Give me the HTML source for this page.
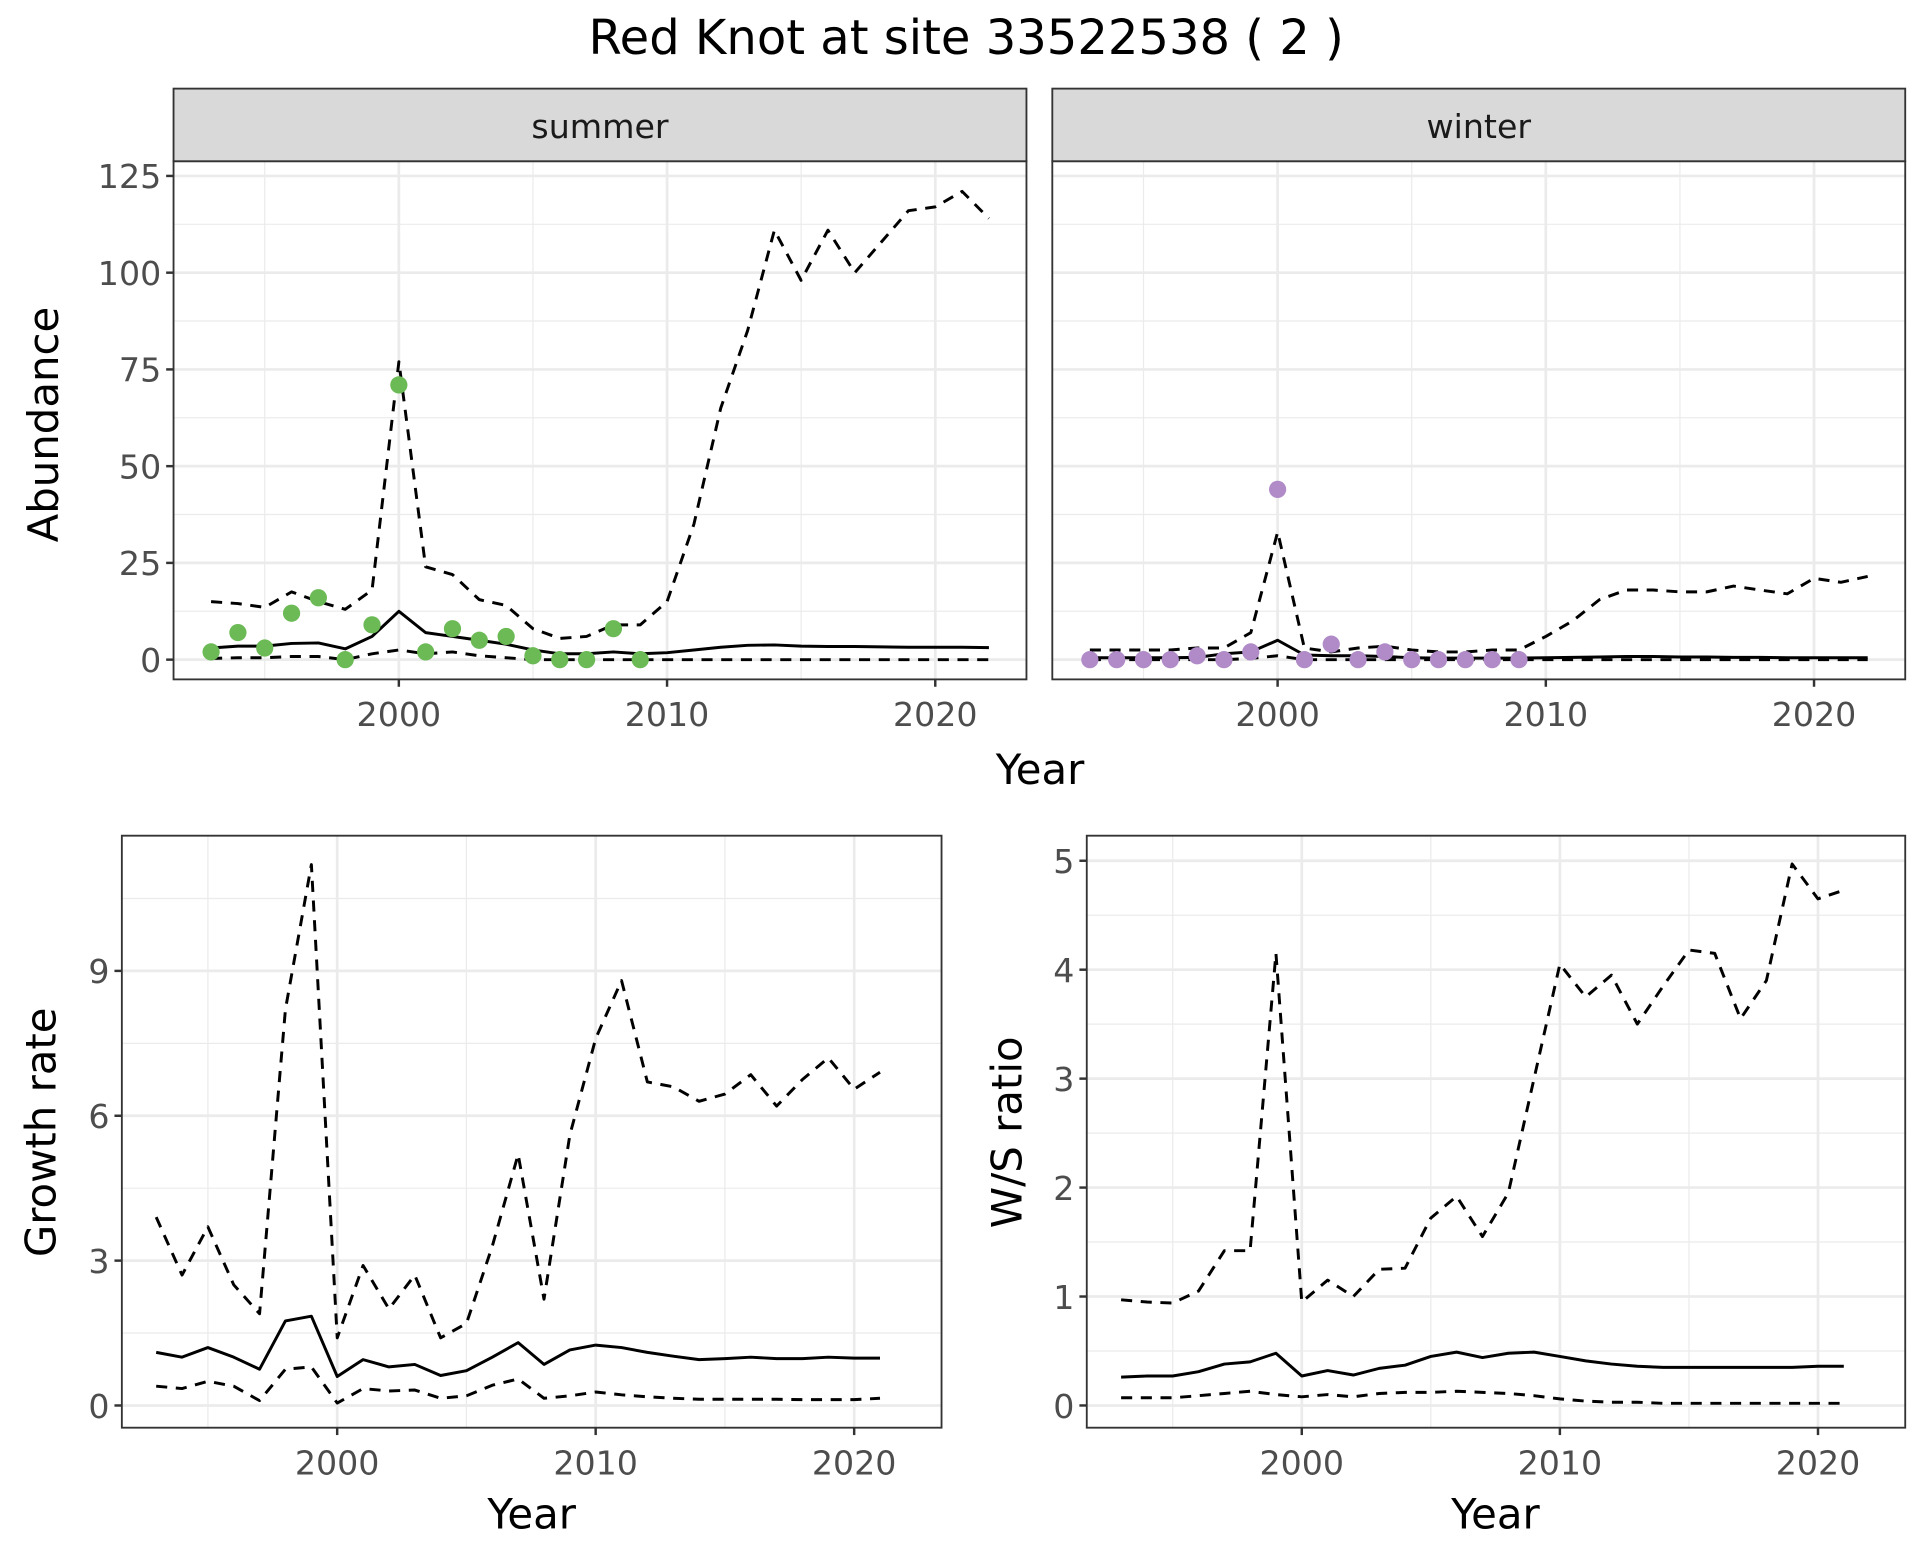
<!DOCTYPE html>
<html><head><meta charset="utf-8"><style>
html,body{margin:0;padding:0;background:#fff}
svg{display:block;font-family:"DejaVu Sans","Liberation Sans",sans-serif}
</style></head><body>
<svg id="chart" width="1920" height="1560" viewBox="0 0 1560 1267.5" xmlns="http://www.w3.org/2000/svg">
<rect width="1560" height="1267.5" fill="#fff"/>
<text x="785" y="44" font-size="39" text-anchor="middle" fill="#000">Red Knot at site 33522538 ( 2 )</text>
</svg>
<script>
const yearsFull = [1993,1994,1995,1996,1997,1998,1999,2000,2001,2002,2003,2004,2005,2006,2007,2008,2009,2010,2011,2012,2013,2014,2015,2016,2017,2018,2019,2020,2021,2022];
const yearsObs = [1993,1994,1995,1996,1997,1998,1999,2000,2001,2002,2003,2004,2005,2006,2007,2008,2009];
const yearsRate = [1993,1994,1995,1996,1997,1998,1999,2000,2001,2002,2003,2004,2005,2006,2007,2008,2009,2010,2011,2012,2013,2014,2015,2016,2017,2018,2019,2020,2021];
const summerObs = [2,7,3,12,16,0,9,71,2,8,5,6,1,0,0,8,0];
const summerMid = [3,3.5,3.5,4.2,4.3,2.8,6,12.5,7,6,5,4,2.5,1.5,1.5,2,1.5,1.8,2.5,3.2,3.7,3.8,3.5,3.4,3.4,3.3,3.2,3.2,3.2,3.1];
const summerHi = [15,14.5,13.5,17.5,15,13,18,77,24,22,15.5,14,8,5.5,6,9,9,15,35,65,85,111,98,111,100,108,116,117,121,114];
const summerLo = [0.3,0.5,0.5,0.8,0.8,0,1.5,2.5,1.5,2,1,0.5,0,0,0,0,0,0,0,0,0,0,0,0,0,0,0,0,0,0];
const winterObs = [0,0,0,0,1,0,2,44,0,4,0,2,0,0,0,0,0];
const winterMid = [0.5,0.5,0.5,0.5,0.6,1.5,2,5,1.2,1,1,0.8,0.5,0.4,0.4,0.4,0.4,0.5,0.6,0.7,0.8,0.8,0.7,0.7,0.6,0.6,0.5,0.5,0.5,0.5];
const winterHi = [2.5,2.5,2.5,2.5,3,3,7,33,3,2,3,3.5,2.5,2,2,2.5,2.5,6,10,15.5,18,18,17.5,17.5,19,18,17,21,20,21.5];
const winterLo = [0,0,0,0,0,0,0.3,1,0,0,0,0,0,0,0,0,0,0,0,0,0,0,0,0,0,0,0,0,0,0];
const growthMid = [1.1,1.0,1.2,1.0,0.75,1.75,1.85,0.6,0.95,0.8,0.85,0.62,0.72,1.0,1.3,0.85,1.15,1.25,1.2,1.1,1.02,0.95,0.97,1.0,0.97,0.97,1.0,0.98,0.98];
const growthHi = [3.9,2.7,3.7,2.5,1.9,8.2,11.2,1.4,2.9,2.0,2.7,1.4,1.7,3.3,5.2,2.2,5.6,7.6,8.8,6.7,6.6,6.3,6.45,6.85,6.2,6.75,7.2,6.55,6.9];
const growthLo = [0.4,0.35,0.5,0.4,0.1,0.75,0.8,0.05,0.35,0.3,0.32,0.15,0.2,0.42,0.55,0.15,0.2,0.28,0.22,0.18,0.15,0.13,0.13,0.13,0.13,0.12,0.12,0.12,0.15];
const ratioMid = [.26,.27,.27,.31,.38,.4,.48,.27,.32,.28,.34,.37,.45,.49,.44,.48,.49,.45,.41,.38,.36,.35,.35,.35,.35,.35,.35,.36,.36];
const ratioHi = [.97,.95,.94,1.05,1.42,1.42,4.15,.95,1.15,1.0,1.25,1.26,1.72,1.92,1.55,1.95,3.0,4.05,3.75,3.95,3.5,3.85,4.18,4.15,3.55,3.9,4.97,4.65,4.73];
const ratioLo = [.07,.07,.07,.09,.11,.13,.1,.08,.1,.08,.11,.12,.12,.13,.12,.11,.09,.06,.04,.03,.03,.02,.02,.02,.02,.02,.02,.02,.02];
const xTicks = [2000,2010,2020];
const xMinor = [1995,2005,2015];
const abundTicks = [0,25,50,75,100,125];
const abundMinor = [12.5,37.5,62.5,87.5,112.5];
const growthTicks = [0,3,6,9];
const growthMinor = [1.5,4.5,7.5,10.5];
const ratioTicks = [0,1,2,3,4,5];
const ratioMinor = [0.5,1.5,2.5,3.5,4.5];

const svg = document.getElementById('chart');
const NS = 'http://www.w3.org/2000/svg';
function mk(tag, attrs, parent){
  const e = document.createElementNS(NS, tag);
  for (const k in attrs) e.setAttribute(k, attrs[k]);
  (parent||svg).appendChild(e);
  return e;
}
function panel(p){
  const g = mk('g', {});
  
  
  const sx = v => p.x0 + (v - p.xmin) / (p.xmax - p.xmin) * (p.x1 - p.x0);
  const sy = v => p.y1 - (v - p.ymin) / (p.ymax - p.ymin) * (p.y1 - p.y0);
  p.yMinor.forEach(v => mk('line', {x1:p.x0,x2:p.x1,y1:sy(v),y2:sy(v),stroke:'#EBEBEB','stroke-width':1}, g));
  xMinor.forEach(v => mk('line', {x1:sx(v),x2:sx(v),y1:p.y0,y2:p.y1,stroke:'#EBEBEB','stroke-width':1}, g));
  p.yTicks.forEach(v => {
    mk('line', {x1:p.x0,x2:p.x1,y1:sy(v),y2:sy(v),stroke:'#EBEBEB','stroke-width':2.2}, g);
    if (p.showY) {
      mk('line', {x1:p.x0-6,x2:p.x0,y1:sy(v),y2:sy(v),stroke:'#333','stroke-width':2}, g);
      const t = mk('text', {x:p.x0-10,y:sy(v)+10,'font-size':27,'text-anchor':'end',fill:'#4D4D4D'}, g);
      t.textContent = v;
      
      
    }
  });
  xTicks.forEach(v => {
    mk('line', {x1:sx(v),x2:sx(v),y1:p.y0,y2:p.y1,stroke:'#EBEBEB','stroke-width':2.2}, g);
    mk('line', {x1:sx(v),x2:sx(v),y1:p.y1,y2:p.y1+6,stroke:'#333','stroke-width':2}, g);
    const t = mk('text', {x:sx(v),y:p.y1+38,'font-size':27,'text-anchor':'middle',fill:'#4D4D4D'}, g);
    t.textContent = v;
    
    
  });
  p.lines.forEach(L => {
    const d = L.ys.map((v,i) => (i?'L':'M') + sx(L.xs[i]).toFixed(1) + ',' + sy(v).toFixed(1)).join('');
    const path = mk('path', {d:d,fill:'none',stroke:'#000','stroke-width':2.4,'stroke-dasharray':L.dash?'9,7':'none','stroke-linejoin':'round'}, g);
    
    
  });
  if (p.points) p.points.ys.forEach((v,i) => {
    const c = mk('circle', {cx:sx(p.points.xs[i]),cy:sy(v),r:7,fill:p.points.color}, g);
    
    
  });
  mk('rect', {x:p.x0,y:p.y0,width:p.x1-p.x0,height:p.y1-p.y0,fill:'none',stroke:'#333','stroke-width':1.5}, g);
  if (p.strip) {
    mk('rect', {x:p.x0,y:p.y0-59,width:p.x1-p.x0,height:59,fill:'#D9D9D9',stroke:'#333','stroke-width':1.5}, g);
    const t = mk('text', {x:(p.x0+p.x1)/2,y:p.y0-19,'font-size':27,'text-anchor':'middle',fill:'#1A1A1A'}, g);
    t.textContent = p.strip;
    
    
  }
}
function label(txt, x, y, rot, name){
  const t = mk('text', {x:x,y:y,'font-size':34,'text-anchor':'middle',fill:'#000',transform:rot?`rotate(-90 ${x} ${y})`:''});
  t.textContent = txt;
  
  
}
const topY = {y0:131,y1:552,ymin:-5.1,ymax:128.8,yTicks:abundTicks,yMinor:abundMinor};
panel(Object.assign({name:'summer-panel',strip:'summer',x0:141,x1:834,xmin:1991.6,xmax:2023.4,showY:true,
  lines:[{xs:yearsFull,ys:summerHi,dash:true,name:'summer-upper'},{xs:yearsFull,ys:summerLo,dash:true,name:'summer-lower'},{xs:yearsFull,ys:summerMid,dash:false,name:'summer-estimate'}],
  points:{xs:yearsObs,ys:summerObs,color:'#6BBA55'}}, topY));
panel(Object.assign({name:'winter-panel',strip:'winter',x0:855,x1:1548,xmin:1991.6,xmax:2023.4,showY:false,
  lines:[{xs:yearsFull,ys:winterHi,dash:true,name:'winter-upper'},{xs:yearsFull,ys:winterLo,dash:true,name:'winter-lower'},{xs:yearsFull,ys:winterMid,dash:false,name:'winter-estimate'}],
  points:{xs:yearsObs,ys:winterObs,color:'#B08BC8'}}, topY));
panel({name:'growth-panel',x0:99,x1:765,y0:679,y1:1160,xmin:1991.67,xmax:2023.38,ymin:-0.46,ymax:11.8,yTicks:growthTicks,yMinor:growthMinor,showY:true,
  lines:[{xs:yearsRate,ys:growthHi,dash:true,name:'growth-upper'},{xs:yearsRate,ys:growthLo,dash:true,name:'growth-lower'},{xs:yearsRate,ys:growthMid,dash:false,name:'growth-estimate'}]});
panel({name:'ratio-panel',x0:883,x1:1548,y0:679,y1:1160,xmin:1991.67,xmax:2023.38,ymin:-0.204,ymax:5.23,yTicks:ratioTicks,yMinor:ratioMinor,showY:true,
  lines:[{xs:yearsRate,ys:ratioHi,dash:true,name:'ratio-upper'},{xs:yearsRate,ys:ratioLo,dash:true,name:'ratio-lower'},{xs:yearsRate,ys:ratioMid,dash:false,name:'ratio-estimate'}]});
label('Abundance',47,345,true,'y-axis-title-abundance');
label('Year',845,637,false,'x-axis-title-top');
label('Growth rate',45,920,true,'y-axis-title-growth');
label('Year',432,1242,false,'x-axis-title-growth');
label('W/S ratio',830,920,true,'y-axis-title-ratio');
label('Year',1215,1242,false,'x-axis-title-ratio');
</script>
</body></html>
